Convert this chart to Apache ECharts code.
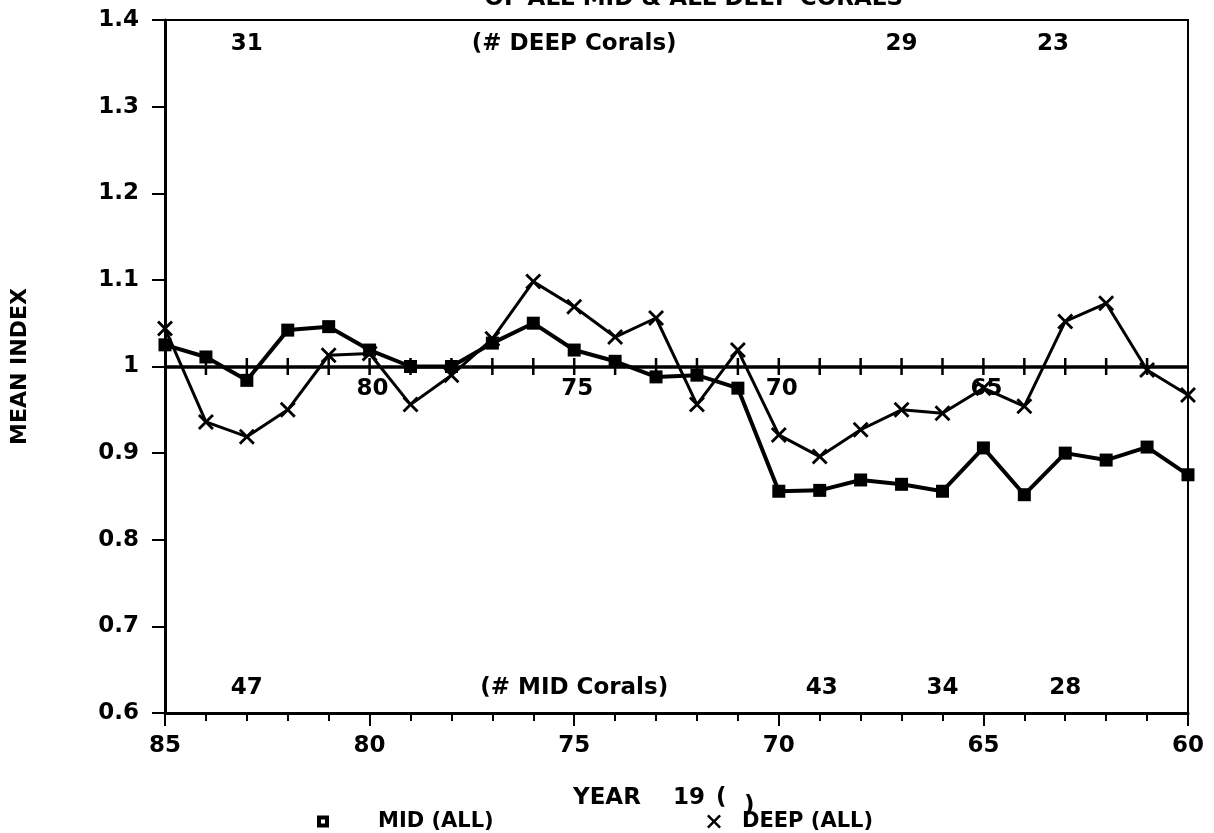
<!DOCTYPE html>
<html>
<head>
<meta charset="utf-8">
<script src="https://cdn.jsdelivr.net/npm/echarts@6/dist/echarts.min.js"></script>
<style>
html,body{margin:0;padding:0;background:#fff;}
#chart{width:1214px;height:833px;}
</style>
</head>
<body>
<div id="chart"></div>
<script>
// ---- data ----
const years = [85,84,83,82,81,80,79,78,77,76,75,74,73,72,71,70,69,68,67,66,65,64,63,62,61,60];
const midValues = [1.025,1.011,0.984,1.042,1.046,1.019,1.000,1.000,1.027,1.050,1.019,1.006,0.988,0.990,0.975,0.856,0.857,0.869,0.864,0.856,0.906,0.852,0.900,0.892,0.907,0.875];
const deepValues = [1.044,0.936,0.919,0.950,1.013,1.015,0.956,0.990,1.032,1.098,1.069,1.034,1.056,0.956,1.019,0.921,0.896,0.927,0.950,0.946,0.975,0.954,1.052,1.073,0.996,0.967];
const deepCountYears = [83, 75, 67, 63.3];
const deepCountLabels = ['31', '(# DEEP Corals)', '29', '23'];
const deepCountLevel = 1.372;
const midCountYears = [83, 75, 68.95, 66, 63];
const midCountLabels = ['47', '(# MID Corals)', '43', '34', '28'];
const midCountLevel = 0.629;
const refLevel = 1.0;
const refTickYears = [84,83,82,81,80,79,78,77,76,75,74,73,72,71,70,69,68,67,66,65,64,63,62,61];
const refLabelYears = [80,75,70,65];
const refLabels = ['80','75','70','65'];
const titleText = 'OF ALL MID & ALL DEEP CORALS';
const xAxisTitleParts = ['YEAR', '19', '(', ')'];
const yAxisTitle = 'MEAN INDEX';
const seriesNames = ['MID (ALL)', 'DEEP (ALL)'];

const FONT = '"DejaVu Sans", "Liberation Sans", sans-serif';
const xPath = 'path://M0,2.5 L2.5,0 L10,7.5 L17.5,0 L20,2.5 L12.5,10 L20,17.5 L17.5,20 L10,12.5 L2.5,20 L0,17.5 L7.5,10 Z';
const hollowSq = 'path://M0,0 L12,0 L12,12 L0,12 Z M4,4 L4,8 L8,8 L8,4 Z';

const chart = echarts.init(document.getElementById('chart'));
const pair = (xs, ys) => xs.map((x, i) => [x, ys[i]]);
const txt = (s, x, y, size, align) => ({
  type: 'text', silent: true, z: 20,
  style: {text: s, x: x, y: y, font: 'bold ' + size + 'px ' + FONT, fill: '#000',
          textAlign: align || 'left', textVerticalAlign: 'middle'}
});
const labelStyle = {color: '#000', fontFamily: FONT, fontWeight: 'bold', fontSize: 23};

chart.setOption({
  animation: false,
  backgroundColor: '#fff',
  textStyle: {fontFamily: FONT, color: '#000'},
  grid: {left: 165, right: 26, top: 20, bottom: 120, show: true, borderColor: '#000', borderWidth: 2, backgroundColor: 'transparent'},
  graphic: [
    txt(titleText, 903, -1, 23, 'right'),
    txt(xAxisTitleParts[0], 573, 798, 23),
    txt(xAxisTitleParts[1], 673, 798, 23),
    txt(xAxisTitleParts[2], 716, 798, 23),
    txt(xAxisTitleParts[3], 744, 806, 23)
  ],
  legend: [
    {left: 312, top: 806, itemWidth: 12, itemHeight: 12, data: [{name: seriesNames[0], icon: hollowSq}],
     textStyle: {fontFamily: FONT, fontWeight: 'bold', fontSize: 21, color: '#000', padding: [0,0,0,44]}},
    {left: 702, top: 806, itemWidth: 14, itemHeight: 14, data: [{name: seriesNames[1], icon: xPath}],
     textStyle: {fontFamily: FONT, fontWeight: 'bold', fontSize: 21, color: '#000', padding: [0,0,0,16]}}
  ],
  xAxis: {
    type: 'value', min: 60, max: 85, interval: 5, inverse: true,
    axisLine: {show: true, lineStyle: {color: '#000', width: 3}},
    axisTick: {show: true, length: 13, lineStyle: {color: '#000', width: 2}},
    minorTick: {show: true, splitNumber: 5, length: 8, lineStyle: {color: '#000', width: 2}},
    axisLabel: {color: '#000', fontFamily: FONT, fontWeight: 'bold', fontSize: 23, margin: 22},
    splitLine: {show: false}
  },
  yAxis: {
    type: 'value', min: 0.6, max: 1.4, interval: 0.1,
    name: yAxisTitle, nameLocation: 'middle', nameGap: 134, nameRotate: 90,
    nameTextStyle: {color: '#000', fontFamily: FONT, fontWeight: 'bold', fontSize: 22},
    axisLine: {show: true, lineStyle: {color: '#000', width: 3}},
    axisTick: {show: true, length: 13, lineStyle: {color: '#000', width: 2}},
    axisLabel: {color: '#000', fontFamily: FONT, fontWeight: 'bold', fontSize: 23, margin: 26,
      formatter: v => (Math.abs(v - 1) < 1e-9 ? '1' : v.toFixed(1))},
    splitLine: {show: false}
  },
  series: [
    {
      name: seriesNames[0], type: 'line', data: pair(years, midValues),
      symbol: 'rect', symbolSize: 13, showAllSymbol: true,
      itemStyle: {color: '#000', opacity: 1}, lineStyle: {color: '#000', width: 4}, z: 5
    },
    {
      name: seriesNames[1], type: 'line', data: pair(years, deepValues),
      symbol: xPath, symbolSize: 16, showAllSymbol: true,
      itemStyle: {color: '#000', opacity: 1}, lineStyle: {color: '#000', width: 3}, z: 4,
      markLine: {silent: true, symbol: 'none', label: {show: false},
        lineStyle: {color: '#000', width: 3.5, type: 'solid', opacity: 1}, data: [{yAxis: refLevel}]}
    },
    {
      name: 'refTicks', type: 'scatter', data: refTickYears.map(y => [y, refLevel]),
      symbol: 'rect', symbolSize: [2.5, 17], itemStyle: {color: '#000', opacity: 1}, silent: true, z: 3
    },
    {
      name: 'refLabels', type: 'scatter', data: refLabelYears.map((y, i) => ({value: [y, refLevel], label: {formatter: refLabels[i]}})),
      symbolSize: 0, silent: true, itemStyle: {color: '#000', opacity: 1},
      label: Object.assign({show: true, position: 'bottom', distance: 11, offset: [3, 0]}, labelStyle)
    },
    {
      name: 'deepCounts', type: 'scatter', data: deepCountYears.map((y, i) => ({value: [y, deepCountLevel], label: {formatter: deepCountLabels[i]}})),
      symbolSize: 0, silent: true, itemStyle: {color: '#000', opacity: 1},
      label: Object.assign({show: true, position: 'inside'}, labelStyle)
    },
    {
      name: 'midCounts', type: 'scatter', data: midCountYears.map((y, i) => ({value: [y, midCountLevel], label: {formatter: midCountLabels[i]}})),
      symbolSize: 0, silent: true, itemStyle: {color: '#000', opacity: 1},
      label: Object.assign({show: true, position: 'inside'}, labelStyle)
    }
  ]
});
</script>
</body>
</html>
